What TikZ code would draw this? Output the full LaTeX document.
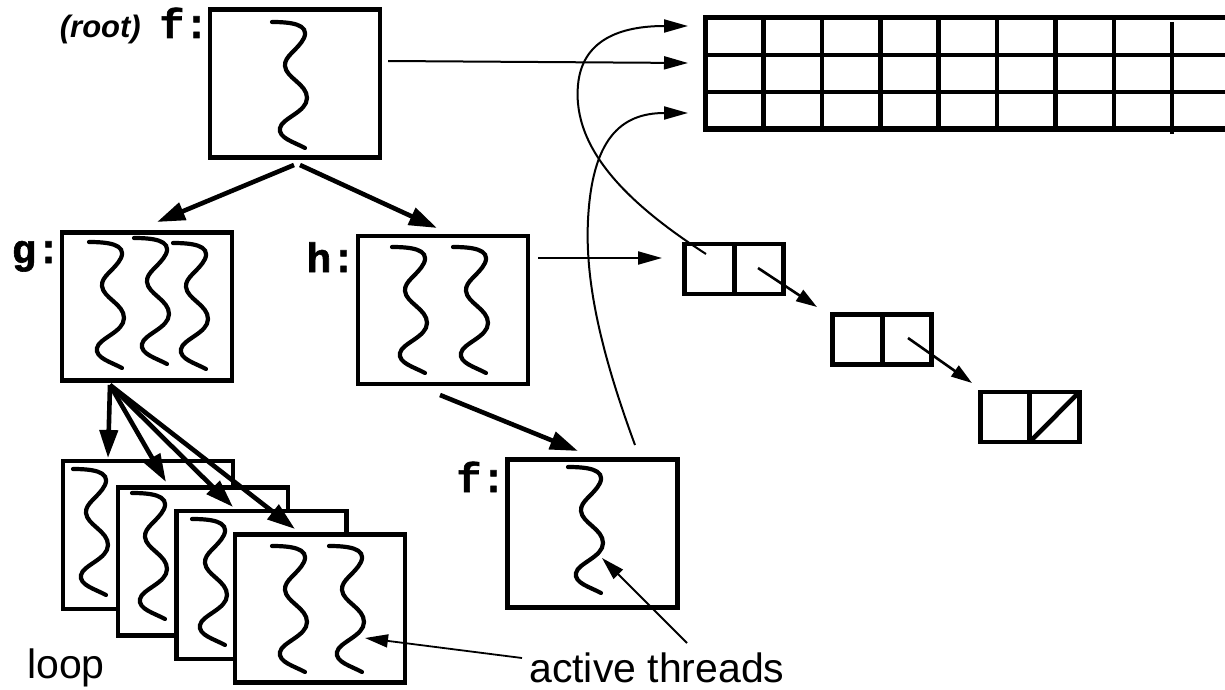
\documentclass[tikz,border=0pt]{standalone}
\usepackage{fontspec}
\setmainfont{Liberation Sans}
\newfontfamily\labelmono[BoldFeatures={FakeBold=1.5}]{Liberation Mono}
\usetikzlibrary{arrows.meta}

\tikzset{
  frame/.style={draw, line width=4.6pt, fill=white, rectangle, inner sep=0pt, outer sep=0pt},
  activation/.style={frame, minimum width=170pt, minimum height=148pt},
  cell/.style={frame, minimum width=49.5pt, minimum height=50pt},
  call/.style={inner sep=0pt, font=\fontsize{41}{44}\selectfont\labelmono\bfseries, anchor=base east},
  caption/.style={inner sep=0pt, font=\fontsize{41}{48}\selectfont, anchor=base west},
  spawn/.style={line width=4.6pt, -{Triangle[length=28pt,width=18pt]}},
  ref/.style={line width=2pt, -{Triangle[length=24pt,width=13pt]}},
  link/.style={line width=2.6pt, -{Triangle[length=21pt,width=13pt]}},
  pointer/.style={line width=1.8pt, -{Triangle[length=23pt,width=13pt]}},
  gridline/.style={line width=4.6pt},
  thread/.pic={
    \draw[line width=4.2pt, line cap=round]
      (0,0) .. controls (18,0) and (38,2) .. (32,16)
      .. controls (26,28) and (12,34) .. (13,44)
      .. controls (14,56) and (35,62) .. (35,76)
      .. controls (35,90) and (10,96) .. (8,106)
      .. controls (6,116) and (22,120) .. (33,126);
  }
}

\begin{document}
\begin{tikzpicture}[x=1pt,y=-1pt]
\useasboundingbox (0,0) rectangle (1225,690);

% ---- activation frames ----
\node[activation] (root) at (295,83.5) {};
\pic at (272,22) {thread};

\node[activation] (g) at (147,306.5) {};
\pic at (89,242) {thread};
\pic at (134,238) {thread};
\pic at (173,243) {thread};

\node[activation] (h) at (443,310) {};
\pic at (392,247) {thread};
\pic at (453,247) {thread};

\node[activation] (f2) at (592.5,533.5) {};
\pic at (568,467) {thread};

% loop iterations, stacked
\node[activation] (l1) at (148,535) {};
\pic at (73,469) {thread};
\node[activation] (l2) at (203,561.5) {};
\pic at (132,493) {thread};
\node[activation] (l3) at (261.5,585) {};
\pic at (192,519) {thread};
\node[activation] (l4) at (320,608.5) {};
\pic at (272,546) {thread};
\pic at (329,546) {thread};

% ---- labels ----
\node[inner sep=0pt, anchor=base east, font=\fontsize{31}{34}\selectfont\bfseries\itshape] (rootlbl) at (141,38) {(root)};
\node[call] (flbl) at (209,38) {f:};
\node[call] (glbl) at (61,263) {g:};
\node[call] (hlbl) at (356,272) {h:};
\node[call] (f2lbl) at (506,492) {f:};
\node[caption] (loop) at (27,678) {loop};
\node[caption] (active) at (529,682) {active threads};

% ---- shared array ----
\foreach \k in {1,...,7}
  \draw[gridline] ({705+58.4*\k},18) -- ({705+58.4*\k},129);
\draw[line width=4pt] (1172.2,22) -- (1172.2,134);
\draw[gridline] (705,55) -- (1226,55);
\draw[gridline] (705,92) -- (1226,92);
\draw[line width=5pt] (1226,18) -- (705,18) -- (705,129) -- (1226,129);
\coordinate (row1) at (688,26);
\coordinate (row2) at (688,63);
\coordinate (row3) at (688,113);

% ---- linked list ----
\node[cell] (a1) at (709.5,269) {};
\node[cell] (a2) at (759,269) {};
\node[cell] (b1) at (857.5,339.5) {};
\node[cell] (b2) at (907,339.5) {};
\node[cell] (c1) at (1005,417) {};
\node[cell] (c2) at (1054.5,417) {};
\draw[line width=4.6pt] (c2.south west) -- (c2.north east);

\coordinate (a2-out) at (758,268);
\coordinate (b-in) at (817,307);
\coordinate (b2-out) at (908,338);
\coordinate (c-in) at (972,383);
\draw[link] (a2-out) -- (b-in);
\draw[link] (b2-out) -- (c-in);

% ---- references ----
\coordinate (root-out) at (388,61);
\draw[ref] (root-out) -- (row2);
\coordinate (h-out) at (538,258);
\coordinate (a-in) at (662,258);
\draw[ref] (h-out) -- (a-in);
\coordinate (a1-out) at (706,254);
\draw[ref] (a1-out) .. controls (630,205) and (572,150) .. (578,85)
  .. controls (582,40) and (620,26) .. (row1);
\coordinate (f2-out) at (635,445);
\draw[ref] (f2-out) .. controls (600,350) and (585,280) .. (588,220)
  .. controls (592,140) and (620,113) .. (row3);

% ---- spawn arrows ----
\coordinate (root-s1) at (294,165);
\coordinate (root-s2) at (300,165);
\coordinate (g-in) at (157,222);
\coordinate (h-in) at (437,228);
\draw[spawn] (root-s1) -- (g-in);
\draw[spawn] (root-s2) -- (h-in);
\coordinate (h-s) at (440,395);
\coordinate (f2-in) at (578,451);
\draw[spawn] (h-s) -- (f2-in);
\coordinate (g-s) at (110,385);
\coordinate (l1-in) at (108,458);
\coordinate (l2-in) at (166,482);
\coordinate (l3-in) at (233,507);
\coordinate (l4-in) at (295,529);
\foreach \t in {l1-in,l2-in,l3-in,l4-in}
  \draw[spawn] (g-s) -- (\t);

% ---- active thread pointers ----
\coordinate (act-a) at (522,658);
\coordinate (act-b) at (687,643);
\coordinate (l4-thread) at (365,638);
\coordinate (f2-thread) at (602,558);
\draw[pointer] (act-a) -- (l4-thread);
\draw[pointer] (act-b) -- (f2-thread);
\end{tikzpicture}
\end{document}
